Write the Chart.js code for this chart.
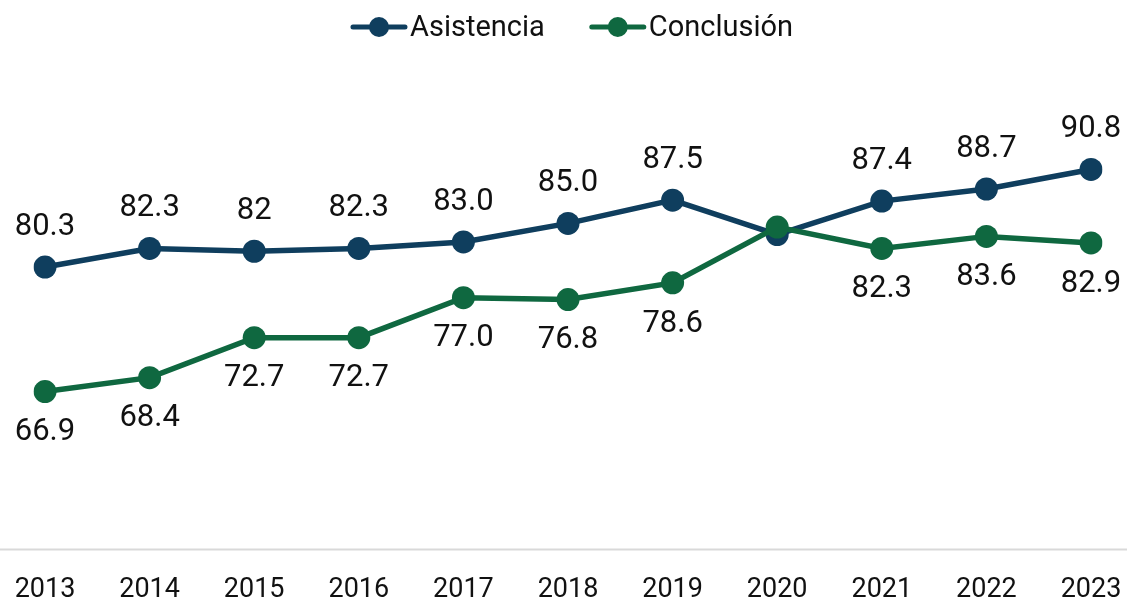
<!DOCTYPE html>
<html>
<head>
<meta charset="utf-8">
<script src="https://cdn.jsdelivr.net/npm/chart.js@4/dist/chart.umd.min.js"></script>
<style>
html,body{margin:0;padding:0;background:#fff;}
#wrap{width:1127px;height:604px;position:relative;}
</style>
</head>
<body>
<div id="wrap"><canvas id="c" width="1127" height="604"></canvas></div>
<script>
const years = ['2013','2014','2015','2016','2017','2018','2019','2020','2021','2022','2023'];
const asistencia = [80.3, 82.3, 82.0, 82.3, 83.0, 85.0, 87.5, 83.8, 87.4, 88.7, 90.8];
const conclusion = [66.9, 68.4, 72.7, 72.7, 77.0, 76.8, 78.6, 84.6, 82.3, 83.6, 82.9];
const asistenciaLabels = ['80.3','82.3','82','82.3','83.0','85.0','87.5','','87.4','88.7','90.8'];
const conclusionLabels = ['66.9','68.4','72.7','72.7','77.0','76.8','78.6','','82.3','83.6','82.9'];

const BLUE = '#0f3e5e';
const GREEN = '#0f6840';
const FONT = 'Roboto, "Noto Sans", sans-serif';

const labelPlugin = {
  id: 'pointLabels',
  afterDatasetsDraw(chart){
    const ctx = chart.ctx;
    ctx.save();
    ctx.font = '31px ' + FONT;
    ctx.fillStyle = '#111';
    ctx.textAlign = 'center';
    ctx.textBaseline = 'middle';
    const sets = [[0, asistenciaLabels, -40],[1, conclusionLabels, 41]];
    sets.forEach(([di, labs, off])=>{
      const meta = chart.getDatasetMeta(di);
      meta.data.forEach((pt,i)=>{
        if(labs[i]) ctx.fillText(labs[i], pt.x, pt.y + off);
      });
    });
    ctx.restore();
  }
};

const axisLinePlugin = {
  id: 'axisLine',
  beforeDatasetsDraw(chart){
    const ctx = chart.ctx;
    const y = Math.round(chart.chartArea.bottom) + 0.5;
    ctx.save();
    ctx.strokeStyle = '#d9d9d9';
    ctx.lineWidth = 2;
    ctx.beginPath(); ctx.moveTo(0,y); ctx.lineTo(chart.width,y); ctx.stroke();
    ctx.restore();
  }
};

const legendPlugin = {
  id: 'lineLegend',
  afterDraw(chart){
    const ctx = chart.ctx;
    ctx.save();
    ctx.font = '29px ' + FONT;
    const items = chart.data.datasets.map(ds => ({text: ds.label, color: ds.borderColor, w: ctx.measureText(ds.label).width}));
    const iconW = 56, iconGap = 3, itemGap = 45;
    let total = 0;
    items.forEach((it,i)=>{ total += iconW + iconGap + it.w + (i < items.length-1 ? itemGap : 0); });
    let x = chart.width/2 + 8.5 - total/2;
    const y = 27;
    items.forEach(it=>{
      ctx.strokeStyle = it.color; ctx.lineWidth = 5; ctx.lineCap = 'round';
      ctx.beginPath(); ctx.moveTo(x+2, y); ctx.lineTo(x+iconW-2, y); ctx.stroke();
      ctx.fillStyle = it.color;
      ctx.beginPath(); ctx.arc(x+iconW/2, y, 10, 0, Math.PI*2); ctx.fill();
      ctx.fillStyle = '#111';
      ctx.textAlign = 'left'; ctx.textBaseline = 'middle';
      ctx.fillText(it.text, x + iconW + iconGap, y + 2);
      x += iconW + iconGap + it.w + itemGap;
    });
    ctx.restore();
  }
};

new Chart(document.getElementById('c'), {
  type: 'line',
  data: {
    labels: years,
    datasets: [
      {label:'Asistencia', data: asistencia, borderColor: BLUE, backgroundColor: BLUE, order: 1,
       borderWidth: 5.5, pointRadius: 11.5, pointHoverRadius: 11.5, pointBackgroundColor: BLUE, pointBorderWidth: 0,
       pointStyle: 'circle', tension: 0},
      {label:'Conclusión', data: conclusion, borderColor: GREEN, backgroundColor: GREEN, order: 0,
       borderWidth: 5.5, pointRadius: 11.5, pointHoverRadius: 11.5, pointBackgroundColor: GREEN, pointBorderWidth: 0,
       pointStyle: 'circle', tension: 0}
    ]
  },
  options: {
    responsive: false,
    animation: false,
    devicePixelRatio: 1,
    layout: { padding: { left: 45, right: 36, top: 84, bottom: -27 } },
    plugins: {
      legend: { display: false },
      tooltip: { enabled: false }
    },
    scales: {
      x: {
        offset: false,
        grid: { display: false, drawTicks: false },
        border: { display: false },
        ticks: { font: { family: FONT, size: 27 }, color: '#111', padding: 25, maxRotation: 0, autoSkip: false },
        afterFit(scale){ scale.paddingLeft = 0; scale.paddingRight = 0; }
      },
      y: {
        min: 50, max: 100,
        display: false
      }
    }
  },
  plugins: [labelPlugin, axisLinePlugin, legendPlugin]
});
</script>
</body>
</html>
